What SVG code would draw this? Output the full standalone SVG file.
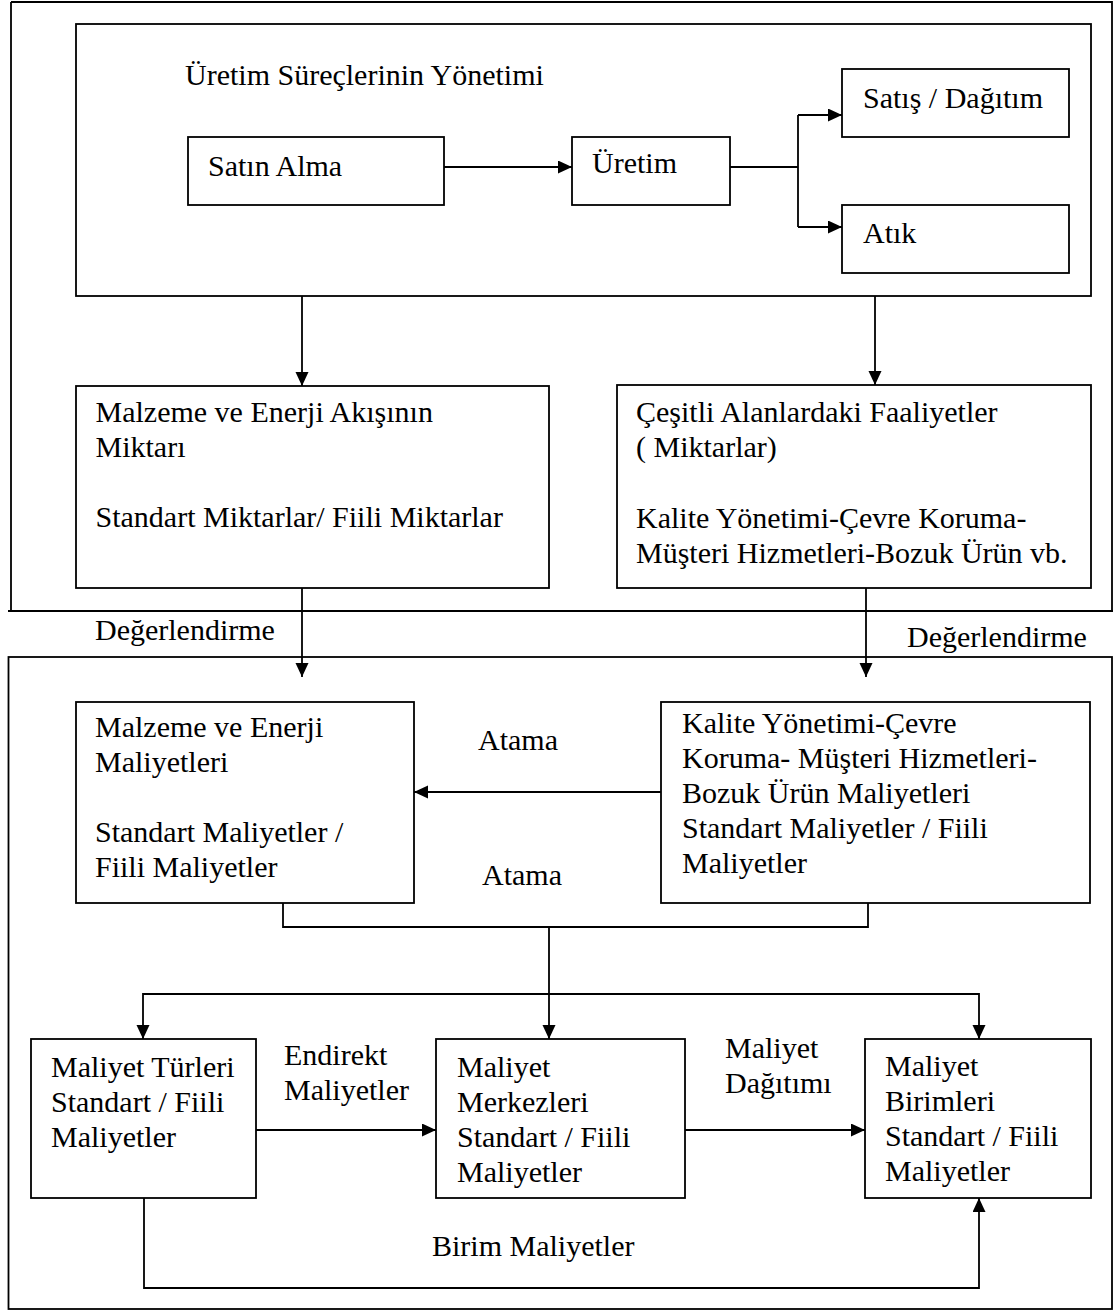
<svg xmlns="http://www.w3.org/2000/svg" width="1115" height="1311" viewBox="0 0 1115 1311">
<style>
.box{fill:#fff;stroke:#000;stroke-width:1.8}
.frame{fill:none;stroke:#000;stroke-width:1.8}
.c{fill:none;stroke:#000;stroke-width:1.8}
.a{marker-end:url(#arr)}
text{font-family:"Liberation Serif","Times New Roman",serif;font-size:30px;fill:#000}
</style>
<defs>
<marker id="arr" markerUnits="userSpaceOnUse" markerWidth="15" markerHeight="14" refX="14" refY="6.5" orient="auto">
<path d="M0,0 L14,6.5 L0,13 z" fill="#000"/>
</marker>
</defs>
<rect width="1115" height="1311" fill="#fff"/>
<g id="frames">
<path class="frame" d="M11,2 H1112 V611 M8,611 H1113 M11,2 V611"/>
<rect class="frame" x="8.5" y="657" width="1103.5" height="652"/>
</g>
<g id="production">
<rect class="box" x="76" y="24" width="1015" height="272"/>
<text x="185" y="85">Üretim Süreçlerinin Yönetimi</text>
</g>
<g id="connectors">
<path class="c a" d="M444,167 H572"/>
<path class="c" d="M730,167 H798 M798,115 V227"/>
<path class="c a" d="M798,115 H842"/>
<path class="c a" d="M798,227 H842"/>
<path class="c a" d="M302,296 V386"/>
<path class="c a" d="M875,296 V385"/>
<path class="c a" d="M302,588 V677"/>
<path class="c a" d="M866,588 V677"/>
<path class="c a" d="M661,792 H414"/>
<path class="c" d="M283,903 V927 H868 V903"/>
<path class="c a" d="M549,927 V1039"/>
<path class="c a" d="M549,994 H143 V1039"/>
<path class="c a" d="M549,994 H979 V1039"/>
<path class="c a" d="M256,1130 H436"/>
<path class="c a" d="M685,1130 H865"/>
<path class="c a" d="M144,1198 V1288 H979 V1198"/>
</g>
<g id="satin-alma">
<rect class="box" x="188" y="137" width="256" height="68"/>
<text x="208" y="176">Satın Alma</text>
</g>
<g id="uretim">
<rect class="box" x="572" y="137" width="158" height="68"/>
<text x="592" y="173">Üretim</text>
</g>
<g id="satis">
<rect class="box" x="842" y="69" width="227" height="68"/>
<text x="863" y="108">Satış / Dağıtım</text>
</g>
<g id="atik">
<rect class="box" x="842" y="205" width="227" height="68"/>
<text x="863" y="243">Atık</text>
</g>
<g id="malzeme-miktar">
<rect class="box" x="76" y="386" width="473" height="202"/>
<text x="95.5" y="422">Malzeme ve Enerji Akışının</text>
<text x="95.5" y="457">Miktarı</text>
<text x="95.5" y="527">Standart Miktarlar/ Fiili Miktarlar</text>
</g>
<g id="cesitli">
<rect class="box" x="617" y="385" width="474" height="203"/>
<text x="636" y="422">Çeşitli Alanlardaki Faaliyetler</text>
<text x="636" y="457">( Miktarlar)</text>
<text x="636" y="528">Kalite Yönetimi-Çevre Koruma-</text>
<text x="636" y="563">Müşteri Hizmetleri-Bozuk Ürün vb.</text>
</g>
<g id="labels">
<text x="95" y="640">Değerlendirme</text>
<text x="907" y="647">Değerlendirme</text>
<text x="478" y="750">Atama</text>
<text x="482" y="885">Atama</text>
<text x="284" y="1065">Endirekt</text>
<text x="284" y="1100">Maliyetler</text>
<text x="725" y="1058">Maliyet</text>
<text x="725" y="1093">Dağıtımı</text>
<text x="432" y="1256">Birim Maliyetler</text>
</g>
<g id="malzeme-maliyet">
<rect class="box" x="76" y="702" width="338" height="201"/>
<text x="95" y="737">Malzeme ve Enerji</text>
<text x="95" y="772">Maliyetleri</text>
<text x="95" y="842">Standart Maliyetler /</text>
<text x="95" y="877">Fiili Maliyetler</text>
</g>
<g id="kalite">
<rect class="box" x="661" y="702" width="429" height="201"/>
<text x="682" y="733">Kalite Yönetimi-Çevre</text>
<text x="682" y="768">Koruma- Müşteri Hizmetleri-</text>
<text x="682" y="803">Bozuk Ürün Maliyetleri</text>
<text x="682" y="838">Standart Maliyetler / Fiili</text>
<text x="682" y="873">Maliyetler</text>
</g>
<g id="turleri">
<rect class="box" x="31" y="1039" width="225" height="159"/>
<text x="51" y="1077">Maliyet Türleri</text>
<text x="51" y="1112">Standart / Fiili</text>
<text x="51" y="1147">Maliyetler</text>
</g>
<g id="merkezleri">
<rect class="box" x="436" y="1039" width="249" height="159"/>
<text x="457" y="1077">Maliyet</text>
<text x="457" y="1112">Merkezleri</text>
<text x="457" y="1147">Standart / Fiili</text>
<text x="457" y="1182">Maliyetler</text>
</g>
<g id="birimleri">
<rect class="box" x="865" y="1039" width="226" height="159"/>
<text x="885" y="1076">Maliyet</text>
<text x="885" y="1111">Birimleri</text>
<text x="885" y="1146">Standart / Fiili</text>
<text x="885" y="1181">Maliyetler</text>
</g>
</svg>
